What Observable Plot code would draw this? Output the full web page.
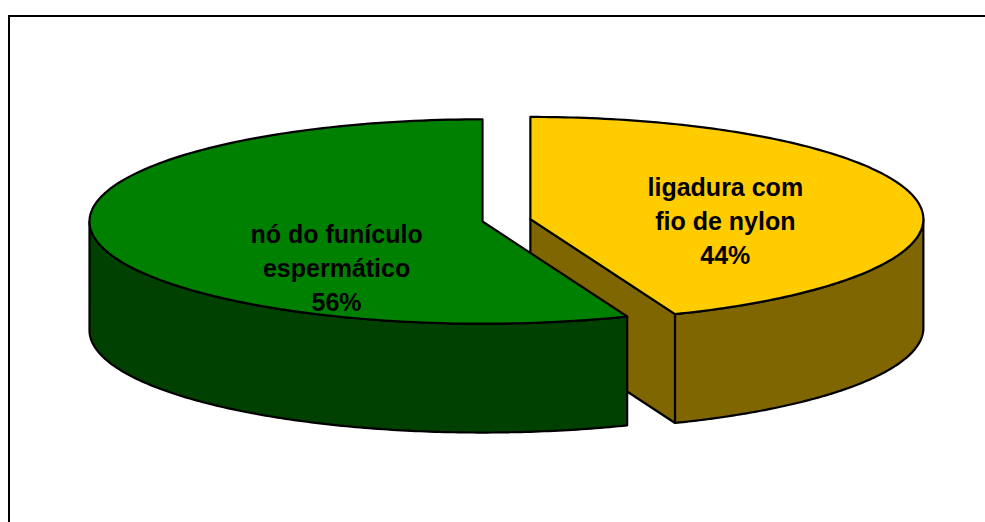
<!DOCTYPE html>
<html><head><meta charset="utf-8">
<script src="https://cdn.jsdelivr.net/npm/d3@7"></script>
<script src="https://cdn.jsdelivr.net/npm/@observablehq/plot@0.6"></script>
<style>
html,body{margin:0;padding:0;background:#fff;overflow:hidden;width:985px;height:522px;}
#frame{position:absolute;left:8px;top:15px;width:1100px;height:700px;border-left:2px solid #000;border-top:2px solid #000;box-sizing:border-box;}
#chart{position:absolute;left:0;top:0;}
</style></head><body>
<div id="frame"></div><div id="chart"></div>
<script>
// ---- data ----
const categories = ["ligadura com\nfio de nylon", "nó do funículo\nespermático"];
const values = [44, 56];
const topColors = ["#FFCC00", "#008000"];
const sideColors = ["#806600", "#004000"];

// ---- geometry (pie radius = 1 unit) ----
const R = 393, CX = 482, CY = 221;      // pixel placement of the pie
const tilt = 0.26, depth = 0.277;        // ellipse ratio and rim depth
const explode = [0.124, 0];
const labelDist = [0.505, 0.378];
const labelDrop = [0.024, 0.094];
const TAU = 2 * Math.PI;
const total = d3.sum(values);

let acc = 0;
const slices = values.map((v, i) => {
  const a0 = acc / total * TAU; acc += v; const a1 = acc / total * TAU;
  const mid = (a0 + a1) / 2;
  return {i, v, a0, a1, mid,
    ox: explode[i] * Math.sin(mid),
    oy: -explode[i] * tilt * Math.cos(mid)};
});
const pt = (s, a, r, dz) => ({x: s.ox + r * Math.sin(a), y: s.oy - tilt * r * Math.cos(a) + dz});
function arc(s, a0, a1, dz, n = 160) {
  const out = [];
  for (let k = 0; k <= n; k++) out.push(pt(s, a0 + (a1 - a0) * k / n, 1, dz));
  return out;
}
const polys = [];
for (const s of slices) {
  const c0 = pt(s, 0, 0, 0), c1 = pt(s, 0, 0, depth);
  // cut faces
  if (Math.sin(s.a0) < -1e-9) {
    polys.push({fill: sideColors[s.i], pts: [c0, pt(s, s.a0, 1, 0), pt(s, s.a0, 1, depth), c1, c0]});
  }
  if (Math.sin(s.a1) > 1e-9) {
    polys.push({fill: sideColors[s.i], pts: [c0, pt(s, s.a1, 1, 0), pt(s, s.a1, 1, depth), c1, c0]});
  }
  // rim (front half only)
  const lo = Math.max(s.a0, Math.PI / 2), hi = Math.min(s.a1, 3 * Math.PI / 2);
  if (lo < hi) {
    const top = arc(s, lo, hi, 0), bot = arc(s, hi, lo, depth);
    polys.push({fill: sideColors[s.i], pts: [...top, ...bot, top[0]]});
  }
  // top face
  polys.push({fill: topColors[s.i], pts: [c0, ...arc(s, s.a0, s.a1, 0), c0]});
}

const labels = slices.map(s => {
  const p = pt(s, s.mid, labelDist[s.i], labelDrop[s.i]);
  return {x: p.x, y: p.y, text: categories[s.i] + "\n" + Math.round(s.v / total * 100) + "%"};
});

const chart = Plot.plot({
  width: 985, height: 522,
  margin: 0,
  x: {domain: [-CX / R, (985 - CX) / R], range: [0, 985], axis: null},
  y: {domain: [-CY / R, (522 - CY) / R], range: [0, 522], axis: null},
  style: {background: "transparent", overflow: "visible"},
  marks: [
    ...polys.map(p => Plot.line(p.pts, {x: "x", y: "y", fill: p.fill, stroke: "#000", strokeWidth: 2.2, strokeLinejoin: "round", curve: "linear"})),
    Plot.text(labels, {x: "x", y: "y", text: "text", fontSize: 25, fontWeight: "bold",
      fontFamily: "'Liberation Sans', Arial, sans-serif", lineHeight: 1.36, fill: "#000",
      style: "letter-spacing:0.3px"})
  ]
});
document.getElementById("chart").appendChild(chart);
</script>
</body></html>
